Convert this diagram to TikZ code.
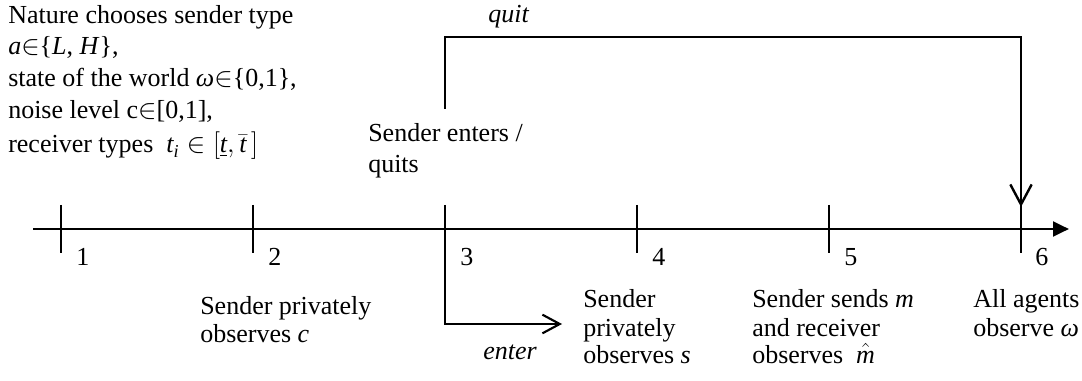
\documentclass[tikz,border=0pt]{standalone}
\usepackage{fontspec}
\setmainfont{Liberation Serif}
\usetikzlibrary{arrows.meta}
\begin{document}
\begin{tikzpicture}[x=0.75pt,y=-0.75pt,
  txt/.style={anchor=base west, inner sep=0pt, font=\fontsize{19.5}{23}\selectfont},
  axisline/.style={line width=2.2pt,-{Triangle[length=12pt,width=11pt]}},
  tickline/.style={line width=1.6pt},
  quitline/.style={line width=1.6pt,-{Straight Barb[length=15pt,width=16pt,line width=1.8pt]}},
  enterline/.style={line width=2pt,-{Straight Barb[length=13pt,width=14pt,line width=1.6pt]}}]
\useasboundingbox[fill=white] (0,0) rectangle (1082,381);

% axis
\coordinate (axS) at (33,229);
\coordinate (axE) at (1069,229);
\draw[axisline] (axS) -- (axE);

% ticks
\foreach \i/\x in {1/61,2/253,4/637,5/829,6/1021}{
  \coordinate (k\i t) at (\x,205);
  \coordinate (k\i b) at (\x,253);
  \draw[tickline] (k\i t) -- (k\i b);
}
\coordinate (k3t) at (445,205);
\coordinate (k3c) at (445,324);
\coordinate (entertip) at (562,324);
\draw[enterline] (k3t) -- (k3c) -- (entertip);

% quit connector
\coordinate (qs) at (445,109);
\coordinate (qtr) at (1021,37);
\coordinate (qe) at (1021,207);
\draw[quitline] (qs) |- (qtr) -- (qe);

% labels on connectors
\node[txt] (quitlbl) at (488,23) {\textit{quit}};
\node[txt] (enterlbl) at (483,359) {\textit{enter}};

% numbers
\node[txt] (n1) at (76,266) {1};
\node[txt] (n2) at (268,266) {2};
\node[txt] (n3) at (460,266) {3};
\node[txt] (n4) at (652,266) {4};
\node[txt] (n5) at (844,266) {5};
\node[txt] (n6) at (1035,266) {6};

% top-left text
\node[txt] (nat1) at (8,24) {Nature chooses sender type};
\node[txt] (nat2) at (8,55) {\textit{a}$\in$\{\textit{L}, \textit{H}\},};
\node[txt] (nat3) at (8,87) {state of the world \textit{ω}$\in$\{0,1\},};
\node[txt] (nat4) at (8,119) {noise level c$\in$[0,1],};
\node[txt] (nat5) at (8,153) {receiver types \ $\mathit{t}_{\mathit{i}} \in \bigl[\underline{\mathit{t}}, \bar{\mathit{t}}\,\bigr]$};

% stage 3 text
\node[txt] (s3a) at (368,142) {Sender enters /};
\node[txt] (s3b) at (368,173) {quits};

% stage 2 text
\node[txt] (s2a) at (200,314) {Sender privately};
\node[txt] (s2b) at (200,342) {observes \textit{c}};

% stage 4 text
\node[txt] (s4a) at (583,307) {Sender};
\node[txt] (s4b) at (583,336) {privately};
\node[txt] (s4c) at (583,363) {observes \textit{s}};

% stage 5 text
\node[txt] (s5a) at (752,307) {Sender sends \textit{m}};
\node[txt] (s5b) at (752,336) {and receiver};
\node[txt] (s5c) at (752,363) {observes \ $\hat{\mathit{m}}$};

% stage 6 text
\node[txt] (s6a) at (973,307) {All agents};
\node[txt] (s6b) at (973,336) {observe \textit{ω}};
\end{tikzpicture}
\end{document}
